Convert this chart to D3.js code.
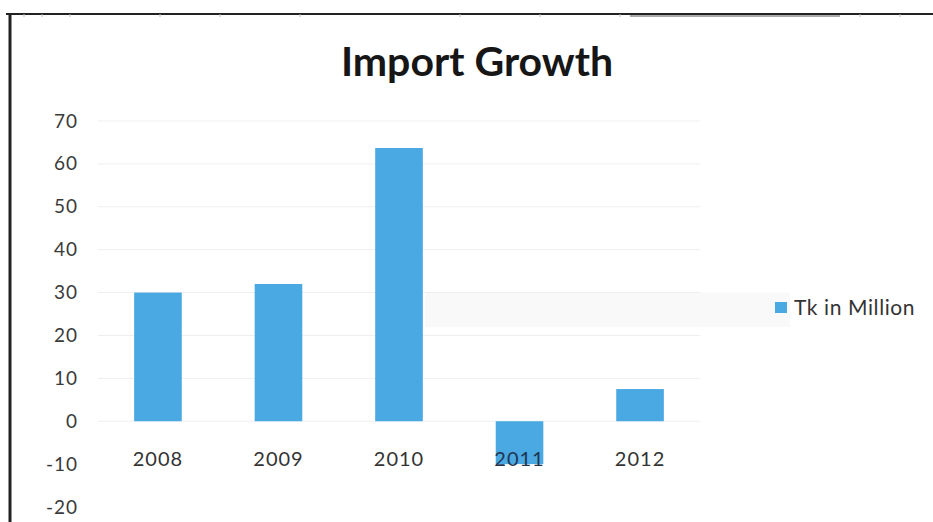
<!DOCTYPE html>
<html>
<head>
<meta charset="utf-8">
<script src="https://cdn.jsdelivr.net/npm/d3@7"></script>
<style>
  html, body { margin: 0; padding: 0; background: #fff; }
  svg { display: block; font-family: Lato, "Open Sans", sans-serif; }
</style>
</head>
<body>
<svg id="chart" width="933" height="522"></svg>
<script>
// Import growth by year (Tk in Million)
const years = ["2008", "2009", "2010", "2011", "2012"];
const values = [30, 32, 63.7, -10, 7.5];
const yTicks = [70, 60, 50, 40, 30, 20, 10, 0, -10, -20];
const seriesName = "Tk in Million";
const title = "Import Growth";

const svg = d3.select("#chart");
const barColor = "#4aa9e2";
const labelFont = "Lato, 'Open Sans', sans-serif";

const x = d3.scaleBand()
  .domain(years)
  .range([98, 700])
  .paddingInner(0.605)
  .paddingOuter(0.3);

const y = d3.scaleLinear()
  .domain([-20, 70])
  .range([507, 121]);

// light shaded strip behind the plot's right side
svg.append("rect")
  .attr("x", 425).attr("y", y(30)).attr("width", 365).attr("height", y(22) - y(30))
  .attr("fill", "#f9f9f9");

// frame: heavy top and left rules
svg.append("line").attr("x1", 6).attr("x2", 933).attr("y1", 14).attr("y2", 14)
  .attr("stroke", "#222").attr("stroke-width", 2);
svg.append("line").attr("x1", 630).attr("x2", 840).attr("y1", 16).attr("y2", 16)
  .attr("stroke", "#aaa").attr("stroke-width", 2);
svg.append("line").attr("x1", 10).attr("x2", 10).attr("y1", 13).attr("y2", 522)
  .attr("stroke", "#222").attr("stroke-width", 3);
// small marks hanging off the top rule
[24, 42, 70, 160, 220, 300, 460, 540, 620, 860, 900].forEach(t => {
  svg.append("line").attr("x1", t).attr("x2", t).attr("y1", 14).attr("y2", 17)
    .attr("stroke", "#bbb").attr("stroke-width", 1);
});

// title
svg.append("text")
  .attr("x", 477).attr("y", 76)
  .attr("text-anchor", "middle")
  .attr("font-size", 41)
  .attr("font-weight", 700)
  .attr("fill", "#161616")
  .text(title);

// faint gridlines
svg.append("g")
  .selectAll("line")
  .data(yTicks.filter(d => d >= 0))
  .join("line")
  .attr("x1", 98).attr("x2", 700)
  .attr("y1", d => y(d)).attr("y2", d => y(d))
  .attr("stroke", "#efefef").attr("stroke-width", 1);

// y axis labels (no axis line)
const yAxis = d3.axisLeft(y).tickValues(yTicks).tickSize(0).tickPadding(0)
  .tickFormat(d => String(d));
const gy = svg.append("g").attr("transform", "translate(78,0)").call(yAxis);
gy.select(".domain").remove();
gy.selectAll("text")
  .attr("font-size", 19)
  .attr("font-family", labelFont)
  .attr("letter-spacing", 1)
  .attr("fill", "#3a3a3a");

// bars
svg.append("g")
  .selectAll("rect")
  .data(years.map((k, i) => ({ k, v: values[i] })))
  .join("rect")
  .attr("x", d => x(d.k))
  .attr("width", x.bandwidth())
  .attr("y", d => y(Math.max(0, d.v)))
  .attr("height", d => Math.abs(y(d.v) - y(0)))
  .attr("fill", barColor);

// category labels, drawn over bars
const xAxis = d3.axisBottom(x).tickSize(0).tickPadding(0);
const gx = svg.append("g").attr("transform", "translate(0,452)").call(xAxis);
gx.select(".domain").remove();
gx.selectAll("text")
  .attr("font-size", 20)
  .attr("font-family", labelFont)
  .attr("letter-spacing", 1)
  .attr("fill", d => d === "2011" ? "#1e3550" : "#333");

// legend
svg.append("rect")
  .attr("x", 775).attr("y", 302).attr("width", 12).attr("height", 11)
  .attr("fill", barColor);
svg.append("text")
  .attr("x", 794).attr("y", 315)
  .attr("font-size", 21)
  .attr("letter-spacing", 0.6)
  .attr("fill", "#333")
  .text(seriesName);
</script>
</body>
</html>
